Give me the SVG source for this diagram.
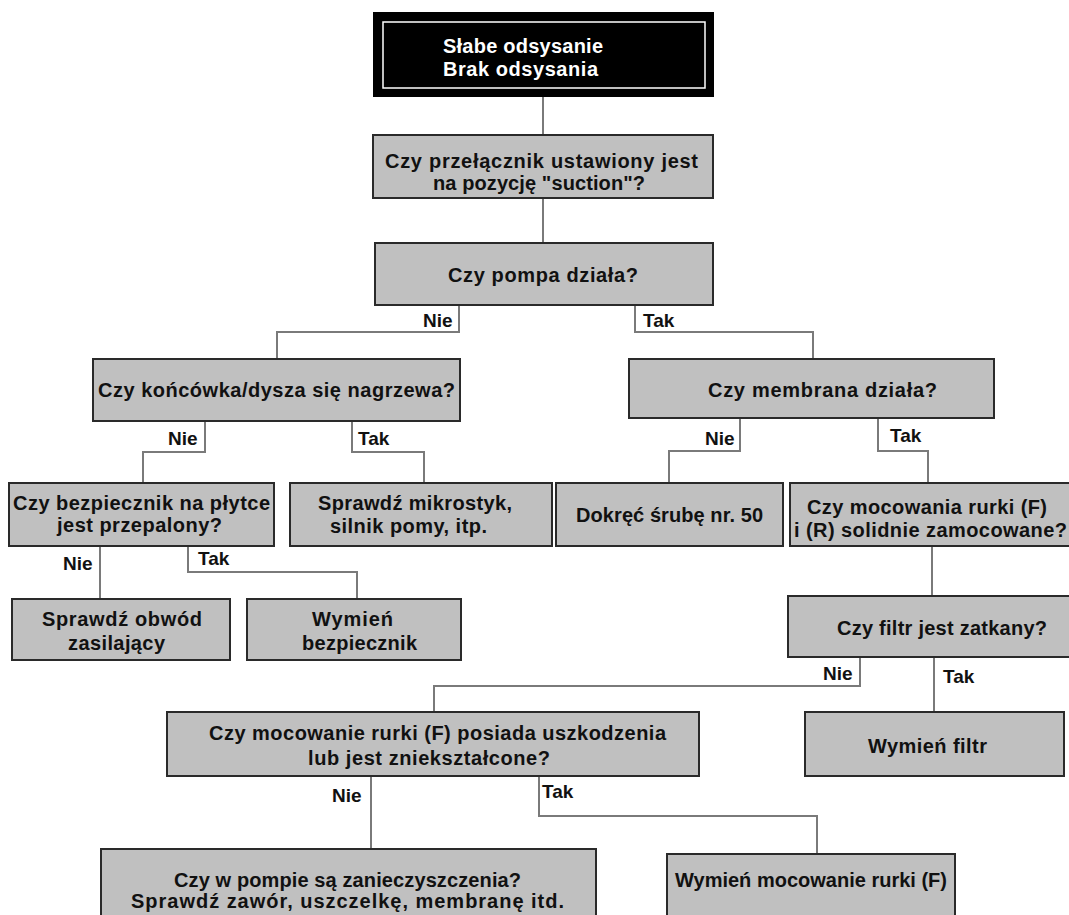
<svg xmlns="http://www.w3.org/2000/svg" width="1069" height="915" viewBox="0 0 1069 915">
<style>
.b{fill:#c0c0c0;stroke:#2a2a2a;stroke-width:2}
.t{font-family:"Liberation Sans",Arial,sans-serif;font-weight:bold;font-size:20px;fill:#111}
.w{fill:#ffffff}
.c{fill:none;stroke:#7a7a7a;stroke-width:2}
.l{font-family:"Liberation Sans",Arial,sans-serif;font-weight:bold;font-size:19px;fill:#111}
</style>
<rect width="1069" height="915" fill="#ffffff"/>
<g id="connectors">
<path class="c" d="M543,97V135"/>
<path class="c" d="M543,198V243"/>
<path class="c" d="M459,305V332H277V359"/>
<path class="c" d="M635,305V332H813V359"/>
<path class="c" d="M205,421V452H143V483"/>
<path class="c" d="M352,421V452H424V483"/>
<path class="c" d="M740,418V451H669V483"/>
<path class="c" d="M878,418V451H928V483"/>
<path class="c" d="M100,546V599"/>
<path class="c" d="M188,546V572H357V599"/>
<path class="c" d="M932,546V596"/>
<path class="c" d="M860,657V686H434V712"/>
<path class="c" d="M934,657V712"/>
<path class="c" d="M371,776V849"/>
<path class="c" d="M539,776V816H817V854"/>
<text class="l" x="423" y="327">Nie</text>
<text class="l" x="643" y="327">Tak</text>
<text class="l" x="168" y="445">Nie</text>
<text class="l" x="358" y="445">Tak</text>
<text class="l" x="705" y="445">Nie</text>
<text class="l" x="890" y="442">Tak</text>
<text class="l" x="63" y="570">Nie</text>
<text class="l" x="198" y="565">Tak</text>
<text class="l" x="823" y="680">Nie</text>
<text class="l" x="943" y="683">Tak</text>
<text class="l" x="332" y="802">Nie</text>
<text class="l" x="542" y="798">Tak</text>
</g>
<g id="n0">
<rect x="373" y="12" width="341" height="85" fill="#000"/>
<rect x="383" y="22" width="322" height="66" fill="none" stroke="#fff" stroke-width="1.5"/>
<text class="t w" x="443" y="53" textLength="160">Słabe odsysanie</text>
<text class="t w" x="443" y="76" textLength="155">Brak odsysania</text>
</g>
<g id="n1">
<rect class="b" x="373" y="135" width="340" height="63"/>
<text class="t" x="385" y="168" textLength="313">Czy przełącznik ustawiony jest</text>
<text class="t" x="433" y="190" textLength="212">na pozycję "suction"?</text>
</g>
<g id="n2">
<rect class="b" x="375" y="243" width="338" height="62"/>
<text class="t" x="448" y="282" textLength="190">Czy pompa działa?</text>
</g>
<g id="n3">
<rect class="b" x="93" y="359" width="367" height="62"/>
<text class="t" x="98" y="397" textLength="357">Czy końcówka/dysza się nagrzewa?</text>
</g>
<g id="n4">
<rect class="b" x="629" y="359" width="365" height="59"/>
<text class="t" x="708" y="397" textLength="229">Czy membrana działa?</text>
</g>
<g id="n5">
<rect class="b" x="9" y="483" width="265" height="63"/>
<text class="t" x="13" y="510" textLength="257">Czy bezpiecznik na płytce</text>
<text class="t" x="57" y="532" textLength="165">jest przepalony?</text>
</g>
<g id="n6">
<rect class="b" x="290" y="483" width="262" height="63"/>
<text class="t" x="318" y="510" textLength="194">Sprawdź mikrostyk,</text>
<text class="t" x="330" y="533" textLength="157">silnik pomy, itp.</text>
</g>
<g id="n7">
<rect class="b" x="556" y="483" width="227" height="63"/>
<text class="t" x="576" y="522" textLength="187">Dokręć śrubę nr. 50</text>
</g>
<g id="n8">
<rect class="b" x="790" y="483" width="290" height="63"/>
<text class="t" x="807" y="514" textLength="240">Czy mocowania rurki (F)</text>
<text class="t" x="794" y="537" textLength="273">i (R) solidnie zamocowane?</text>
</g>
<g id="n9">
<rect class="b" x="12" y="599" width="218" height="61"/>
<text class="t" x="42" y="626" textLength="160">Sprawdź obwód</text>
<text class="t" x="68" y="650" textLength="97">zasilający</text>
</g>
<g id="n10">
<rect class="b" x="247" y="599" width="214" height="61"/>
<text class="t" x="312" y="626" textLength="81">Wymień</text>
<text class="t" x="302" y="650" textLength="115">bezpiecznik</text>
</g>
<g id="n11">
<rect class="b" x="788" y="596" width="292" height="61"/>
<text class="t" x="837" y="635" textLength="210">Czy filtr jest zatkany?</text>
</g>
<g id="n12">
<rect class="b" x="167" y="712" width="532" height="64"/>
<text class="t" x="209" y="740" textLength="457">Czy mocowanie rurki (F) posiada uszkodzenia</text>
<text class="t" x="308" y="765" textLength="242">lub jest zniekształcone?</text>
</g>
<g id="n13">
<rect class="b" x="805" y="712" width="259" height="64"/>
<text class="t" x="868" y="753" textLength="119">Wymień filtr</text>
</g>
<g id="n14">
<rect class="b" x="101" y="849" width="495" height="80"/>
<text class="t" x="174" y="887" textLength="347">Czy w pompie są zanieczyszczenia?</text>
<text class="t" x="131" y="908" textLength="433">Sprawdź zawór, uszczelkę, membranę itd.</text>
</g>
<g id="n15">
<rect class="b" x="667" y="854" width="288" height="75"/>
<text class="t" x="675" y="887" textLength="272">Wymień mocowanie rurki (F)</text>
</g>
</svg>
